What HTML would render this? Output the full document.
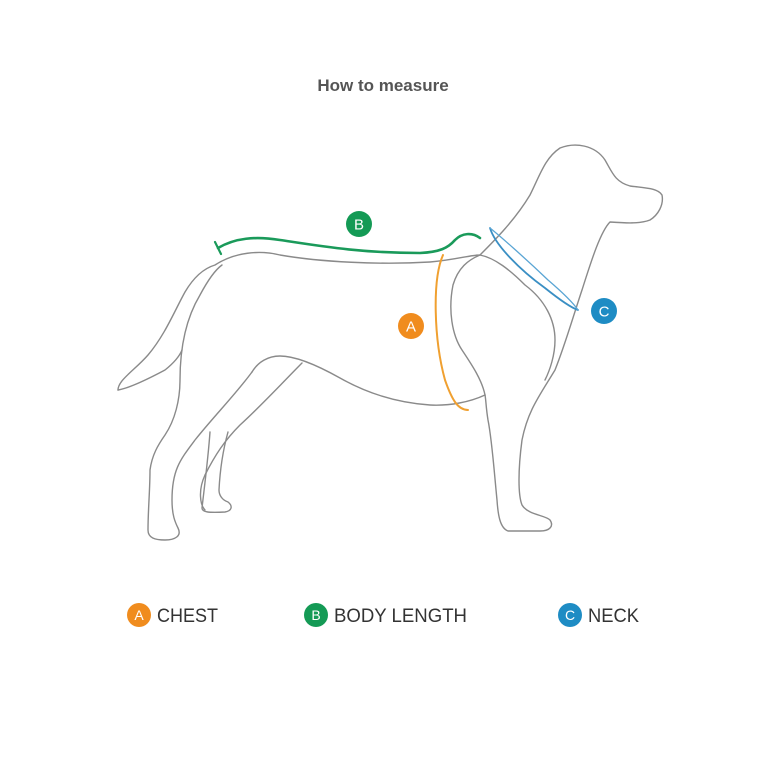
<!DOCTYPE html>
<html><head><meta charset="utf-8"><style>
html,body{margin:0;padding:0;background:#fff;}
svg{display:block;}
</style></head><body>
<svg width="771" height="771" viewBox="0 0 771 771" xmlns="http://www.w3.org/2000/svg">
<rect width="771" height="771" fill="#fff"/>
<text x="383" y="91" text-anchor="middle" font-family="Liberation Sans, sans-serif" font-weight="bold" font-size="17" fill="#555">How to measure</text>
<g fill="none" stroke="#8a8a8a" stroke-width="1.4" stroke-linejoin="round" stroke-linecap="round">
<path d="M118,390 C118,380 135,370 148,355 C165,335 175,310 185,292 C195,275 205,268 215,265 C235,252 260,250 280,255 C320,262 380,265 430,262 C455,260 470,255 480,255 C495,240 515,220 530,195 C540,175 545,158 560,148 C575,142 595,145 605,160 C612,172 615,182 630,186 C645,188 658,188 662,195 C664,205 658,215 650,220 C640,224 625,223 610,222 C600,232 590,265 582,290 C572,320 565,345 555,370 C540,395 528,410 522,440 C518,470 518,495 522,505 C528,515 545,515 550,520 C554,526 550,531 540,531 L508,531 C500,528 498,515 497,500 C494,470 492,440 488,420 C486,408 486,400 485,395"/>
<path d="M485,395 C470,402 450,406 430,405 C400,403 370,395 340,378 C315,364 295,356 280,356 C268,356 258,362 252,372"/>
<path d="M302,363 C285,380 262,405 240,425 C225,440 215,455 205,475 C198,490 200,505 205,510"/>
<path d="M252,372 C235,395 215,415 195,440 C180,460 172,470 172,500 C172,515 175,522 178,528 C182,536 175,540 165,540 C155,540 148,538 148,530 C148,510 150,490 150,470 C152,455 158,445 165,435 C175,420 180,400 180,380 C180,350 185,320 200,295 C208,280 215,270 222,265"/>
<path d="M118,390 C130,388 150,378 165,370 C175,362 180,355 182,350"/>
<path d="M210,432 C208,460 204,490 202,508 C202,512 208,513 225,512 C232,511 233,506 228,502 C222,500 219,495 219,490 C220,470 223,450 228,432"/>
<path d="M480,255 C468,260 458,268 453,285 C448,310 452,335 462,350 C472,365 482,380 485,395"/>
<path d="M480,255 C495,258 510,270 525,285 C545,300 555,320 555,340 C555,355 550,370 545,380"/>
</g>
<g fill="none" stroke="#f0a030" stroke-width="2" stroke-linecap="round">
<path d="M443,255 C432,280 434,340 445,380 C452,400 458,410 468,410"/>
</g>
<g fill="none" stroke="#3a8fc4" stroke-width="1.8" stroke-linecap="round">
<path d="M490,228 C495,245 520,270 545,288 C560,300 572,308 578,310"/>
<path d="M490,228 C500,236 525,258 548,280 C562,292 574,304 578,310" stroke="#5aa5d4" stroke-width="1.3"/>
</g>
<g fill="none" stroke="#1a9a5a" stroke-width="2.6" stroke-linecap="round">
<path d="M218,248 C235,238 255,236 280,240 C320,246 360,253 420,253 C440,252 448,248 455,240 C462,233 472,232 480,238"/>
<path d="M215,242 L221,254" stroke-width="2.2"/>
</g>
<g font-family="Liberation Sans, sans-serif" font-size="15" text-anchor="middle">
<circle cx="359" cy="224" r="13" fill="#149a55"/><text x="359" y="229.5" fill="#fff">B</text>
<circle cx="411" cy="326" r="13" fill="#f08c1e"/><text x="411" y="331.5" fill="#fff">A</text>
<circle cx="604" cy="311" r="13" fill="#1e8cc4"/><text x="604" y="316.5" fill="#fff">C</text>
</g>
<g font-family="Liberation Sans, sans-serif" font-size="14" text-anchor="middle">
<circle cx="139" cy="615" r="12" fill="#f08c1e"/><text x="139" y="620" fill="#fff">A</text>
<circle cx="316" cy="615" r="12" fill="#149a55"/><text x="316" y="620" fill="#fff">B</text>
<circle cx="570" cy="615" r="12" fill="#1e8cc4"/><text x="570" y="620" fill="#fff">C</text>
</g>
<g font-family="Liberation Sans, sans-serif" font-size="19" fill="#333">
<text x="157" y="622" textLength="61" lengthAdjust="spacingAndGlyphs">CHEST</text>
<text x="334" y="622" textLength="133" lengthAdjust="spacingAndGlyphs">BODY LENGTH</text>
<text x="588" y="622" textLength="51" lengthAdjust="spacingAndGlyphs">NECK</text>
</g>
</svg>
</body></html>
